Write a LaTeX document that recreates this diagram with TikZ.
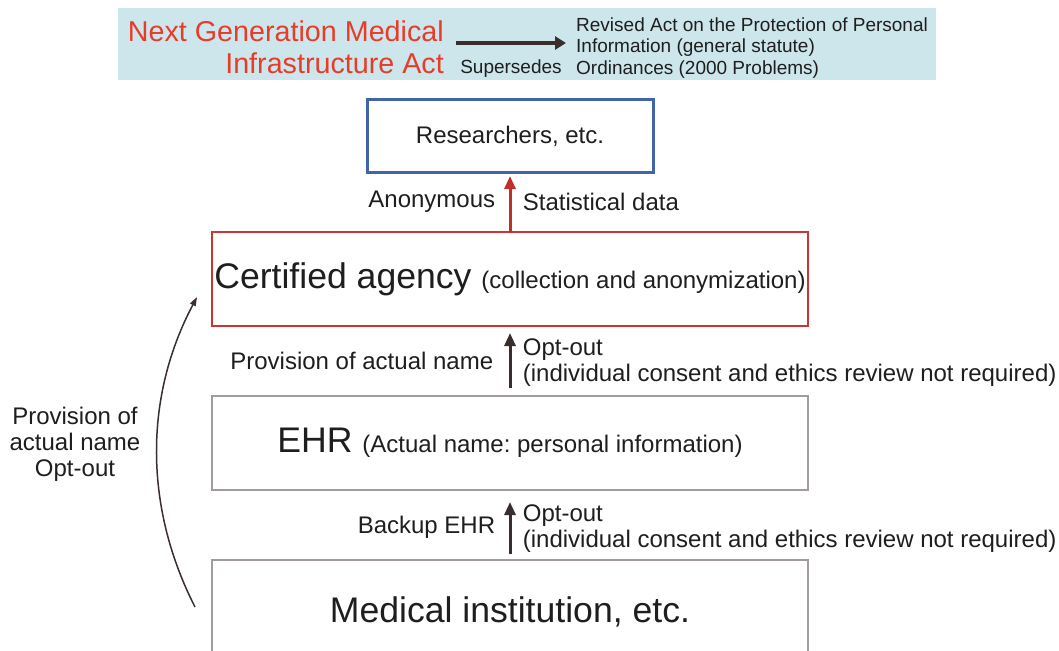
\documentclass[tikz,border=0pt]{standalone}
\usepackage{fontspec}
\setmainfont{Liberation Sans}
\frenchspacing
\usetikzlibrary{arrows.meta, positioning}
\definecolor{ink}{RGB}{30,30,30}
\definecolor{actred}{RGB}{232,60,42}
\definecolor{bannerblue}{RGB}{205,230,236}
\definecolor{resblue}{RGB}{66,100,168}
\definecolor{certred}{RGB}{204,52,52}
\definecolor{arrowred}{RGB}{192,48,42}
\definecolor{arrowdark}{RGB}{58,45,45}
\definecolor{boxgrey}{RGB}{163,156,156}
\newcommand*{\boxWidth}{596pt}
\newcommand*{\bigFont}{\fontsize{35.6pt}{40pt}\selectfont}
\newcommand*{\midFont}{\fontsize{24pt}{26pt}\selectfont}
\newcommand*{\smallFont}{\fontsize{19pt}{21.5pt}\selectfont}
\newcommand*{\actFont}{\fontsize{28.7pt}{32pt}\selectfont}
\tikzset{
    banner/.style   = {fill=bannerblue, rectangle, minimum width=818pt, minimum height=72pt, inner sep=0pt},
    acttitle/.style = {font=\actFont, text=actred, align=right, inner sep=0pt},
    lawtext/.style  = {font=\smallFont, align=left, inner sep=0pt},
    box/.style      = {draw=boxgrey, line width=2.5pt, rectangle, minimum width=\boxWidth, minimum height=94pt, outer sep=0pt, inner sep=0pt, text centered},
    resbox/.style   = {box, draw=resblue, line width=3pt, minimum width=286pt, minimum height=72pt},
    certbox/.style  = {box, draw=certred, line width=2pt},
    to/.style       = {-{Triangle[length=13pt, width=11pt]}, line width=3pt, draw=arrowdark},
    redto/.style    = {to, draw=arrowred, -{Triangle[length=13pt, width=11pt]}},
    supto/.style    = {-{Triangle[length=11pt, width=13pt]}, line width=4pt, draw=arrowdark},
    curveto/.style  = {-{Triangle[length=9pt, width=6pt]}, line width=1.5pt, draw=arrowdark}
}

\begin{document}
\begin{tikzpicture}[x=1pt, y=-1pt, node distance=60pt, every node/.style={font=\midFont, text=ink}]
	\useasboundingbox (0,0) rectangle (1059,650);
	% banner with the law
	\node (banner) [banner] at (527,44) {};
	\node (act) [acttitle, anchor=east] at (444,47) {Next Generation Medical\\Infrastructure Act};
	\node (law) [lawtext, anchor=west] at (576,48) {Revised Act on the Protection of Personal\\Information (general statute)\\Ordinances (2000 Problems)};
	\coordinate (sup1) at (456,43);
	\coordinate (sup2) at (566,43);
	\draw [supto] (sup1) -- node[font=\smallFont, below=11pt]{Supersedes} (sup2);

	% data flow
	\node (res)  [resbox] at (510,136) {Researchers, etc.};
	\node (cert) [certbox, below=of res] {\bigFont Certified agency \midFont(collection and anonymization)};
	\node (ehr)  [box, below=70pt of cert] {\bigFont EHR \midFont(Actual name: personal information)};
	\node (med)  [box, minimum height=104pt, below=70pt of ehr] {\bigFont Medical institution, etc.};

	\draw [redto, shorten >=4pt] (cert.north) -- node[left=10pt]{Anonymous} node[right=8pt]{Statistical data} (res.south);
	\draw [to, shorten <=8pt, shorten >=7pt] (ehr.north) -- node[left=12pt]{Provision of actual name} node[right=8pt, yshift=-2pt, align=left]{Opt-out\\(individual consent and ethics review not required)} (cert.south);
	\draw [to, shorten <=6pt, shorten >=12pt] (med.north) -- node[left=10pt, yshift=-2pt]{Backup EHR} node[right=8pt, yshift=-4pt, align=left]{Opt-out\\(individual consent and ethics review not required)} (ehr.south);

	% direct provision
	\coordinate (loop1) at (195,607);
	\coordinate (loop2) at (197,297);
	\draw [curveto] (loop1) .. controls (144,507) and (144,397) .. (loop2);
	\node (prov) [align=center] at (75,444) {Provision of\\actual name\\Opt-out};
\end{tikzpicture}
\end{document}
